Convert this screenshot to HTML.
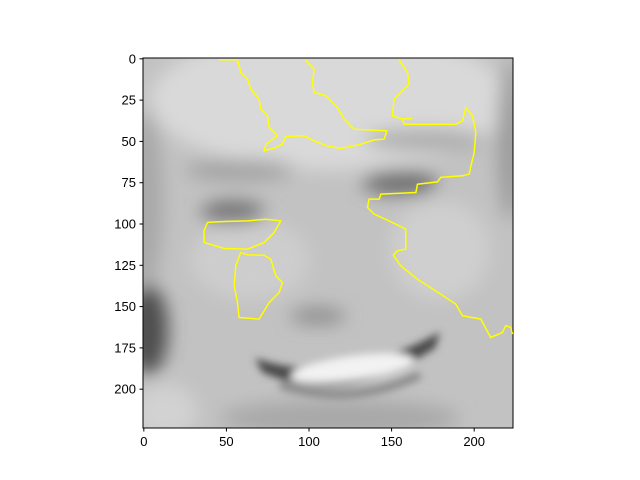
<!DOCTYPE html>
<html><head><meta charset="utf-8"><style>
body{margin:0;background:#fff;}
svg{display:block;font-family:"Liberation Sans",sans-serif;}
</style></head><body>
<svg id="chart" width="640" height="480" viewBox="0 0 640 480" xmlns="http://www.w3.org/2000/svg">
<defs>
<clipPath id="clip"><rect x="143" y="58" width="370" height="370"/></clipPath>
<filter id="blur" x="-20%" y="-20%" width="140%" height="140%"><feGaussianBlur stdDeviation="9"/></filter>
<filter id="blur2" x="-20%" y="-20%" width="140%" height="140%"><feGaussianBlur stdDeviation="4"/></filter>
</defs>
<g clip-path="url(#clip)">
<rect x="143" y="58" width="370" height="370" fill="#c2c2c2"/>
<g filter="url(#blur)">
<ellipse cx="330" cy="100" rx="180" ry="70" fill="#d9d9d9"/>
<ellipse cx="250" cy="260" rx="60" ry="40" fill="#cdcdcd"/>
<ellipse cx="440" cy="250" rx="50" ry="50" fill="#cfcfcf"/>
<ellipse cx="145" cy="200" rx="18" ry="90" fill="#a8a8a8"/>
<ellipse cx="148" cy="330" rx="20" ry="45" fill="#4e4e4e"/>
<ellipse cx="165" cy="412" rx="32" ry="28" fill="#d2d2d2"/>
<ellipse cx="240" cy="170" rx="55" ry="10" fill="#a0a0a0"/>
<ellipse cx="425" cy="140" rx="60" ry="10" fill="#a8a8a8"/>
<ellipse cx="233" cy="212" rx="32" ry="11" fill="#6e6e6e"/>
<ellipse cx="400" cy="183" rx="38" ry="12" fill="#6e6e6e"/>
<ellipse cx="318" cy="316" rx="28" ry="8" fill="#8a8a8a"/>
<ellipse cx="510" cy="140" rx="12" ry="80" fill="#9a9a9a"/>
<ellipse cx="340" cy="418" rx="120" ry="18" fill="#a8a8a8"/>
</g>
<g filter="url(#blur2)">
<path d="M255,358 Q340,388 440,332 L435,348 Q340,408 262,372 Z" fill="#4a4a4a"/>
<ellipse cx="352" cy="368" rx="62" ry="12" fill="#f2f2f2" transform="rotate(-8 352 368)"/>
<path d="M280,385 Q350,408 420,375" stroke="#888" stroke-width="8" fill="none"/>
</g>
</g>
<rect x="143" y="58" width="370" height="370" fill="none" stroke="#000" stroke-width="1"/>
<g id="contours"></g>
<g id="xaxis"></g>
<g id="yaxis"></g>
<script>
const xTicks=[0,50,100,150,200];
const yTicks=[0,25,50,75,100,125,150,175,200];
const contourTop=[[45.6,0.6],[56.7,0.6],[58.7,8.3],[62.8,12.3],[64.8,18.4],[69.8,24.4],[70.8,30.5],[74.9,34.5],[75.9,41.6],[80.9,46.6],[73.9,51.7],[72.8,55.7],[79.9,53.7],[83.9,51.7],[86,47],[97,46.6],[103,49.6],[111.2,52.7],[119.3,54.3],[131.4,51.7],[139.4,49.1],[145.5,48.6],[147.1,43.6],[127.3,42.6],[121.3,36.5],[117.2,29.5],[110.2,22.4],[103.1,20.4],[102.1,14.3],[103.1,6.3],[97.7,0.6]];
const contourRight=[[154.6,0.6],[159.6,8.3],[160.6,15.3],[155.6,20.4],[151.5,24.4],[150.5,34.5],[156.6,36.5],[162.6,36.1],[156.6,36.5],[157.6,39.6],[188.9,39.6],[192.9,37.5],[194.9,29.5],[199,34.5],[201,44.6],[200,56.7],[198,64.8],[197,69.8],[192.9,70.8],[179.8,71.8],[177.8,74.5],[165.7,75.9],[164.7,80.9],[143.5,81.9],[142.5,84.9],[136.4,84.9],[135.4,90],[139.4,94],[148.5,98.1],[158.6,103.1],[158.6,115.2],[153.6,116.2],[151.1,118.9],[155.6,125.3],[165.7,133.4],[179.8,142.5],[188.9,148.5],[192.9,155.6],[204,157.6],[210,168.7],[217.1,165.7],[219.1,161.6],[222.2,162.6],[223.2,166.7]];
const contourEye=[[38.5,99],[36.5,104.1],[36.5,111.2],[48.6,114.8],[62.8,115.2],[72.8,111.2],[78.9,105.1],[82.9,98.1],[73.9,97.1],[62.8,98.1],[48.6,98.5],[38.5,99]];
const contourCheek=[[58.7,117.2],[55.7,125.3],[54.7,137.4],[56.7,147.5],[57.7,156.6],[69.8,157.6],[75.9,147.5],[81.9,141.5],[83.9,135.4],[79.9,131.4],[76.9,121.3],[72.8,118.9],[62.8,118.7],[58.7,117.2]];
const NS="http://www.w3.org/2000/svg";
const sc=370/224;
function xPx(v){return 143+(v+0.5)*sc;}
function yPx(v){return 58+(v+0.5)*sc;}
const cg=document.getElementById('contours');
const allC=[["contour-forehead",contourTop],["contour-right",contourRight],["contour-left-eye",contourEye],["contour-left-cheek",contourCheek]];
allC.forEach(function(c){
  const p=document.createElementNS(NS,'polyline');
  p.setAttribute('points',c[1].map(function(q){return xPx(q[0]).toFixed(1)+','+yPx(q[1]).toFixed(1);}).join(' '));
  p.setAttribute('fill','none');p.setAttribute('stroke','#ffff00');p.setAttribute('stroke-width','1.5');
  
  
  cg.appendChild(p);
});
const xg=document.getElementById('xaxis');
xTicks.forEach(function(t){
  const x=xPx(t);
  const l=document.createElementNS(NS,'line');
  l.setAttribute('x1',x);l.setAttribute('x2',x);l.setAttribute('y1',428);l.setAttribute('y2',431.5);l.setAttribute('stroke','#000');
  
  
  xg.appendChild(l);
  const tx=document.createElementNS(NS,'text');
  tx.setAttribute('x',x);tx.setAttribute('y',446);tx.setAttribute('text-anchor','middle');tx.setAttribute('font-size','13');
  tx.textContent=t;
  
  
  xg.appendChild(tx);
});
const yg=document.getElementById('yaxis');
yTicks.forEach(function(t){
  const y=yPx(t);
  const l=document.createElementNS(NS,'line');
  l.setAttribute('x1',139.5);l.setAttribute('x2',143);l.setAttribute('y1',y);l.setAttribute('y2',y);l.setAttribute('stroke','#000');
  
  
  yg.appendChild(l);
  const tx=document.createElementNS(NS,'text');
  tx.setAttribute('x',136);tx.setAttribute('y',y+4.5);tx.setAttribute('text-anchor','end');tx.setAttribute('font-size','13');
  tx.textContent=t;
  
  
  yg.appendChild(tx);
});
</script>
</svg>
</body></html>
